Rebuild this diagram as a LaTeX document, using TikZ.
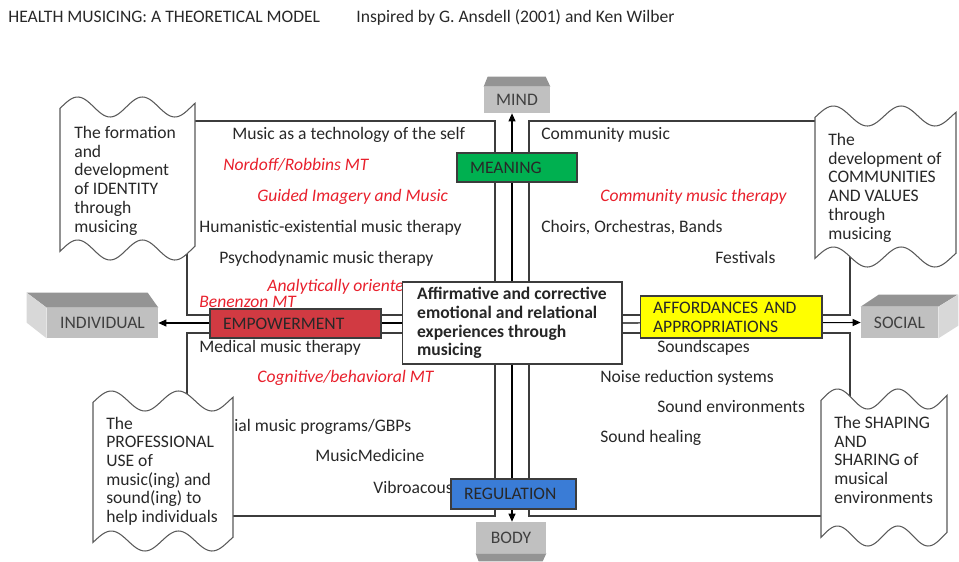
\documentclass[tikz,border=0pt]{standalone}
\usepackage{fontspec}
\setmainfont{Carlito}
\usetikzlibrary{arrows.meta, positioning}
\usepackage{xcolor}
\definecolor{textdark}{RGB}{40, 40, 40}
\definecolor{linedark}{RGB}{60, 60, 60}
\definecolor{therapyred}{RGB}{232, 32, 44}
\definecolor{meaninggreen}{RGB}{0, 176, 80}
\definecolor{empowerred}{RGB}{209, 58, 66}
\definecolor{affordyellow}{RGB}{255, 255, 0}
\definecolor{regulationblue}{RGB}{58, 124, 214}
\definecolor{blockfront}{RGB}{192, 192, 192}
\definecolor{blocktop}{RGB}{148, 148, 148}
\definecolor{blockside}{RGB}{216, 216, 216}

\newcommand{\diagfont}{\fontsize{10}{10.65}\selectfont}

% punched tape outline: x left, x right, y top, y bottom
\newcommand{\tapeoutline}[4]{%
  \draw[tapeline] plot[domain=#1:#2, samples=60, smooth]
      (\x, {#3 - 10*sin(750*((\x-#1)/(#2-#1)) - 8)})
    -- plot[domain=#2:#1, samples=60, smooth]
      (\x, {#4 - 10*sin(750*((\x-#1)/(#2-#1)) - 8)}) -- cycle;}

\begin{document}
\begin{tikzpicture}[
    x=0.02cm, y=-0.02cm,
    font=\diagfont, text=textdark,
    frame/.style={draw=linedark, line width=0.6pt},
    tapeline/.style={draw=linedark!85, fill=white, line width=0.6pt},
    item/.style={anchor=base west, inner sep=0pt, font=\diagfont},
    therapy/.style={item, text=therapyred, font=\diagfont\itshape},
    tapetext/.style={anchor=north west, inner sep=0pt, align=left, font=\diagfont},
    labelbox/.style={draw=linedark, line width=0.6pt, align=left, inner xsep=0.26cm, inner ysep=0pt, font=\diagfont},
    block/.style={fill=blockfront, inner sep=0pt, font=\diagfont, text=black!75},
    arrow/.style={-{Triangle[length=1.6mm, width=1.4mm]}, line width=0.6pt, draw=black},
]
\useasboundingbox (0,0) rectangle (959,561);

% Title
\node[item] (title) at (8,22) {HEALTH MUSICING: A THEORETICAL MODEL};
\node[item] (inspired) at (356,22) {Inspired by G. Ansdell (2001) and Ken Wilber};

% Quadrant frames
\draw[frame] (187,121) rectangle (495,315);
\draw[frame] (529,121) rectangle (850,315);
\draw[frame] (187,333) rectangle (495,516);
\draw[frame] (529,333) rectangle (850,516);

% Upper left quadrant
\node[item] (selftech) at (232,139) {Music as a technology of the self};
\node[therapy] (nordoff) at (223,170) {Nordoff/Robbins MT};
\node[therapy] (guided) at (257,201) {Guided Imagery and Music};
\node[item] (humanistic) at (199,232) {Humanistic-existential music therapy};
\node[item] (psychodyn) at (219,263) {Psychodynamic music therapy};
\node[therapy] (analytic) at (267,291) {Analytically oriente};
\node[therapy] (benenzon) at (199,307) {Benenzon MT};

% Lower left quadrant
\node[item] (medical) at (199,352) {Medical music therapy};
\node[therapy] (cognitive) at (257,382) {Cognitive/behavioral MT};
\node[item] (programs) at (234,431) {ial music programs/GBPs};
\node[item] (musicmed) at (315,461) {MusicMedicine};
\node[item] (vibro) at (373,493) {Vibroacous};

% Upper right quadrant
\node[item] (community) at (541,139) {Community music};
\node[therapy] (cmt) at (600,201) {Community music therapy};
\node[item] (choirs) at (541,232) {Choirs, Orchestras, Bands};
\node[item] (festivals) at (715,263) {Festivals};

% Lower right quadrant
\node[item] (soundscapes) at (657,352) {Soundscapes};
\node[item] (noise) at (600,382) {Noise reduction systems};
\node[item] (soundenv) at (657,412) {Sound environments};
\node[item] (healing) at (600,442) {Sound healing};

% Tapes
\tapeoutline{60}{195}{107}{250}
\node[tapetext] (identity) at (74,126) {The formation\\and\\development\\of IDENTITY\\through\\musicing};
\tapeoutline{815}{956}{116}{257}
\node[tapetext] (communities) at (828,133) {The\\development of\\COMMUNITIES\\AND VALUES\\through\\musicing};
\tapeoutline{93}{233}{401}{541}
\node[tapetext] (professional) at (106,416.5) {The\\PROFESSIONAL\\USE of\\music(ing) and\\sound(ing) to\\help individuals};
\tapeoutline{821}{947}{399}{536}
\node[tapetext] (shaping) at (834,416) {The SHAPING\\AND\\SHARING of\\musical\\environments};

% Core experience
\node[labelbox, fill=white, minimum width=4.4cm, minimum height=1.64cm, font=\diagfont\bfseries, text=black!85] (core) at (512,323) {Affirmative and corrective\\emotional and relational\\experiences through\\musicing};

% Blocks
\node[block, minimum width=1.32cm, minimum height=0.52cm] (mind) at (517,100) {MIND};
\fill[blocktop] (mind.north west) -- ++(4,-10) -- ++(58,0) -- (mind.north east) -- cycle;
\node[block, minimum width=1.4cm, minimum height=0.62cm] (body) at (511,537.5) {BODY};
\fill[blocktop] (body.south west) -- ++(3,8) -- ++(64,0) -- (body.south east) -- cycle;
\node[block, minimum width=2.22cm, minimum height=0.6cm] (individual) at (102.5,323) {INDIVIDUAL};
\fill[blocktop] (individual.north west) -- ++(-20,-15) -- ++(121,0) -- (individual.north east) -- cycle;
\fill[blockside] (individual.north west) -- ++(-20,-15) -- ++(0,30) -- (individual.south west) -- cycle;
\node[block, minimum width=1.54cm, minimum height=0.62cm] (social) at (899.5,322.5) {SOCIAL};
\fill[blocktop] (social.north west) -- ++(18,-12) -- ++(79,0) -- (social.north east) -- cycle;
\fill[blockside] (social.north east) -- ++(20,-12) -- ++(0,31) -- (social.south east) -- cycle;

% Axes
\draw[arrow] (core.north) -- (core.north |- mind.south);
\draw[arrow] (core.south) -- (core.south |- body.north);
\draw[arrow] (core.west) -- (individual.east);
\draw[arrow] (core.east) -- (social.west);

% Colored labels
\node[labelbox, fill=meaninggreen, text width=1.88cm, minimum height=0.58cm] (meaning) at (517,167.5) {MEANING};
\node[labelbox, fill=empowerred, text width=2.9cm, minimum height=0.58cm] (empower) at (295.5,323.5) {EMPOWERMENT};
\node[labelbox, fill=affordyellow, text width=3.12cm, minimum height=0.84cm] (afford) at (731,317) {AFFORDANCES AND\\APPROPRIATIONS};
\node[labelbox, fill=regulationblue, text width=1.98cm, minimum height=0.6cm] (regulation) at (513.5,494) {REGULATION};

\end{tikzpicture}
\end{document}
